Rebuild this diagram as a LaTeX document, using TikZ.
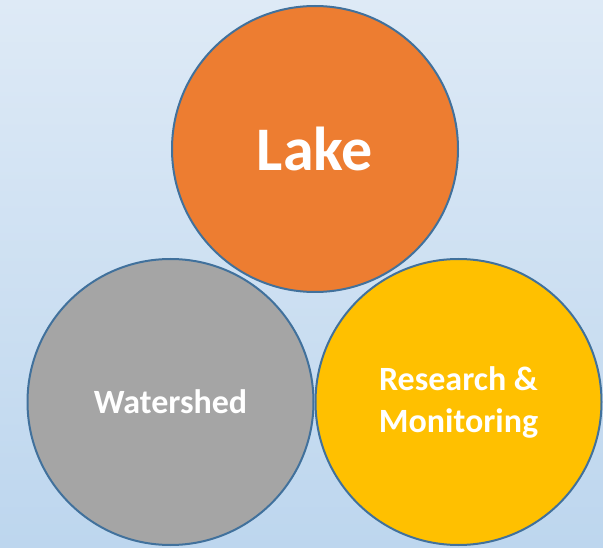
\documentclass[tikz,border=0pt]{standalone}
\usepackage{fontspec}
\setmainfont{Carlito}
\definecolor{bgtop}{RGB}{222,234,246}
\definecolor{bgbot}{RGB}{189,214,238}
\definecolor{edge}{RGB}{65,113,156}
\definecolor{lakefill}{RGB}{237,125,49}
\definecolor{wsfill}{RGB}{165,165,165}
\definecolor{rmfill}{RGB}{255,192,0}
\begin{document}
\begin{tikzpicture}[x=1pt,y=-1pt,
  bubble/.style={circle, draw=edge, line width=2pt, minimum size=286pt, inner sep=0pt, text=white, font=\bfseries, align=center}]
\useasboundingbox (0,0) rectangle (603,548);
\shade[top color=bgtop, bottom color=bgbot] (0,0) rectangle (603,548);
\node[bubble, fill=wsfill, font=\bfseries\fontsize{34}{42}\selectfont] (ws) at (170.5,402) {Watershed};
\node[bubble, fill=rmfill, font=\bfseries\fontsize{34}{42}\selectfont] (rm) at (458.5,402) {Research \&\\Monitoring};
\node[bubble, fill=lakefill, font=\bfseries\fontsize{62}{70}\selectfont] (lake) at (315,149) {Lake};
\end{tikzpicture}
\end{document}
